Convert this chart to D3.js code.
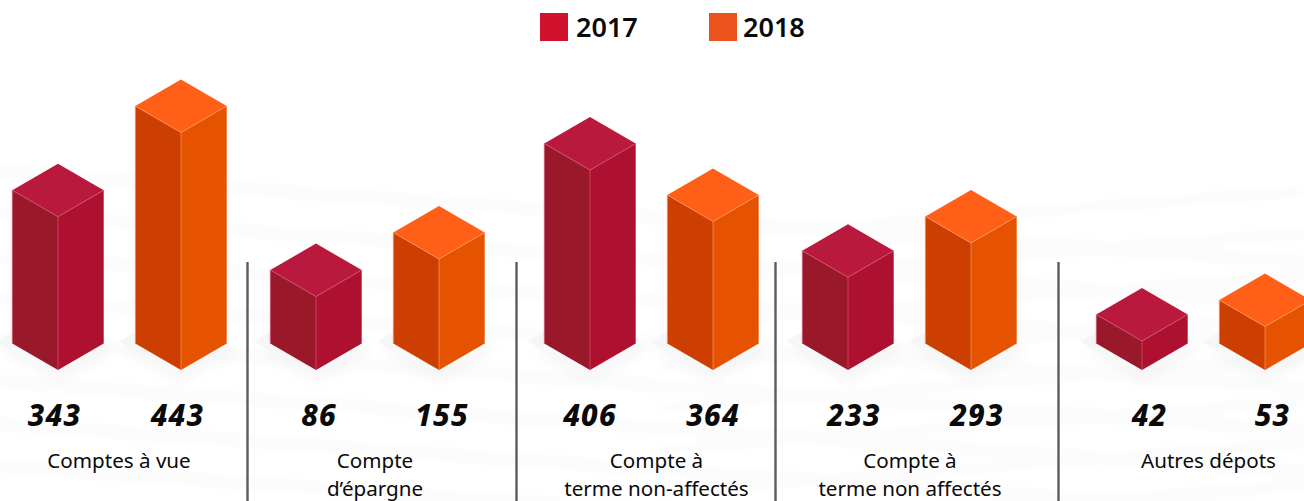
<!DOCTYPE html>
<html>
<head>
<meta charset="utf-8">
<script src="https://cdn.jsdelivr.net/npm/d3@7/dist/d3.min.js"></script>
<style>
  html, body { margin: 0; background: #fff; overflow: hidden; }
  text { font-family: "Noto Sans", sans-serif; fill: #0a0a0a; }
</style>
</head>
<body>
<div class="vis"></div>
<script>
const categories = ["Comptes à vue", "Compte\nd’épargne", "Compte à\nterme non-affectés", "Compte à\nterme non affectés", "Autres dépots"];
const years = ["2017", "2018"];

// printed numbers
const labels2017 = [343, 86, 406, 233, 42];
const labels2018 = [443, 155, 364, 293, 53];

// bar lengths as drawn: in the picture they do not follow the printed numbers,
// so they are read off separately, in the same units as the tallest bar (443)
const drawn2017 = [286, 137, 373, 173, 54];
const drawn2018 = [443, 207, 277, 237, 81];

const width = 1304;
const height = 501;

// layout
const groupCentres = [119.5, 377.5, 651.5, 909.5, 1203.5];
const separators = [247.5, 516.5, 775.5, 1058.5];
const labelShift = [-3.5, 3, 0, 6, 7.5];
const categoryCentres = [119, 375, 656.5, 910, 1208.5];
const barOffset = 61.5;
const halfW = 45.7;
const halfD = 26.5;
const baseY = 370;

const colours = {
  "2017": { legend: "#d0122f", top: "#b8193c", left: "#99182a", right: "#ae102f", edge: "#d8587a" },
  "2018": { legend: "#ec531c", top: "#ff5f17", left: "#cc3f00", right: "#e55200", edge: "#ff9a60" }
};

const svg = d3.select(".vis")
  .append("svg")
  .attr("width", width)
  .attr("height", height)
  .style("display", "block");

const defs = svg.append("defs");
defs.append("filter").attr("id", "soft").attr("x", "-30%").attr("y", "-30%").attr("width", "160%").attr("height", "160%")
  .append("feGaussianBlur").attr("stdDeviation", 7);
defs.append("filter").attr("id", "softer").attr("x", "-10%").attr("y", "-50%").attr("width", "120%").attr("height", "200%")
  .append("feGaussianBlur").attr("stdDeviation", 3);

const xGroup = d3.scaleOrdinal(categories, groupCentres);
const xCategory = d3.scaleOrdinal(categories, categoryCentres);
const yLength = d3.scaleLinear().domain([0, 443]).range([0, 237.5]);

// faint streaks behind the bars
const streaks = svg.append("g").attr("filter", "url(#softer)").attr("fill", "#fcfcfc");
d3.range(8).forEach(i => {
  const y = 165 + i * 42;
  streaks.append("path").attr("d", `M0,${y} L${width},${y + 90} L${width},${y + 104} L0,${y + 14} Z`);
  streaks.append("path").attr("d", `M${width},${y + 20} L660,${y + 70} L660,${y + 80} L${width},${y + 32} Z`);
});

const bars = categories.flatMap((c, i) => [
  { category: c, year: "2017", length: drawn2017[i], label: labels2017[i], side: -1, i },
  { category: c, year: "2018", length: drawn2018[i], label: labels2018[i], side: 1, i }
]);

const barX = d => xGroup(d.category) + d.side * barOffset;

// soft shadows on the ground
const shadows = svg.append("g");
shadows.selectAll("path.ground")
  .data(bars)
  .enter().append("path")
  .attr("class", "ground")
  .attr("fill", "#e8e8e8")
  .attr("opacity", 0.6)
  .attr("filter", "url(#soft)")
  .attr("d", d => {
    const x = barX(d);
    return `M${x - halfW},${baseY - halfD} L${x},${baseY} L${x + halfW},${baseY - halfD} L${x + halfW + 8},${baseY - halfD + 6} L${x},${baseY + 10} L${x - halfW - 8},${baseY - halfD + 6} Z`;
  });
shadows.selectAll("path.wedge")
  .data(bars)
  .enter().append("path")
  .attr("class", "wedge")
  .attr("fill", "#f6f6f6")
  .attr("d", d => {
    const x = barX(d);
    return `M${x - halfW},${baseY - halfD - 12} L${x - halfW - 16},${baseY - halfD - 2} L${x - halfW},${baseY - halfD + 8} Z`;
  });

// isometric columns
const bar = svg.selectAll("g.bar")
  .data(bars)
  .enter().append("g")
  .attr("class", "bar");

const frontTop = d => baseY - yLength(d.length);

bar.append("path")
  .attr("fill", d => colours[d.year].left)
  .attr("d", d => {
    const x = barX(d), t = frontTop(d);
    return `M${x - halfW},${t - halfD} L${x},${t} L${x},${baseY} L${x - halfW},${baseY - halfD} Z`;
  });
bar.append("path")
  .attr("fill", d => colours[d.year].right)
  .attr("d", d => {
    const x = barX(d), t = frontTop(d);
    return `M${x},${t} L${x + halfW},${t - halfD} L${x + halfW},${baseY - halfD} L${x},${baseY} Z`;
  });
bar.append("path")
  .attr("fill", d => colours[d.year].top)
  .attr("d", d => {
    const x = barX(d), t = frontTop(d);
    return `M${x},${t} L${x + halfW},${t - halfD} L${x},${t - 2 * halfD} L${x - halfW},${t - halfD} Z`;
  });
// thin light edges
bar.append("path")
  .attr("fill", "none")
  .attr("stroke", d => colours[d.year].edge)
  .attr("stroke-width", 0.7)
  .attr("d", d => {
    const x = barX(d), t = frontTop(d);
    return `M${x - halfW},${baseY - halfD} L${x - halfW},${t - halfD} L${x},${t} L${x + halfW},${t - halfD} M${x},${t} L${x},${baseY}`;
  });

// value labels
svg.selectAll("text.value")
  .data(bars)
  .enter().append("text")
  .attr("class", "value")
  .attr("x", d => barX(d) + labelShift[d.i])
  .attr("y", 426)
  .attr("text-anchor", "middle")
  .style("font-size", "29.5px")
  .style("font-weight", 800)
  .style("font-style", "italic")
  .style("letter-spacing", "1.2px")
  .text(d => d.label);

// category labels
const cat = svg.selectAll("text.category")
  .data(categories)
  .enter().append("text")
  .attr("class", "category")
  .attr("text-anchor", "middle")
  .attr("x", d => xCategory(d))
  .style("font-size", "20.6px");
cat.selectAll("tspan")
  .data(d => d.split("\n").map(line => ({ line, centre: xCategory(d) })))
  .enter().append("tspan")
  .attr("x", d => d.centre)
  .attr("y", (d, i) => 468 + i * 28)
  .text(d => d.line);

// separators
svg.selectAll("line.sep")
  .data(separators)
  .enter().append("line")
  .attr("class", "sep")
  .attr("x1", d => d).attr("x2", d => d)
  .attr("y1", 262).attr("y2", height)
  .attr("stroke", "#5a5b63")
  .attr("stroke-width", 2.4);

// legend
const legendX = d3.scaleOrdinal(years, [540, 709]);
const legend = svg.selectAll("g.legend")
  .data(years)
  .enter().append("g")
  .attr("class", "legend")
  .attr("transform", d => `translate(${legendX(d)},13)`);
legend.append("rect")
  .attr("width", 28).attr("height", 28)
  .attr("fill", d => colours[d].legend);
legend.append("text")
  .attr("x", d => d === "2017" ? 36 : 34)
  .attr("y", 24)
  .style("font-size", "27px")
  .style("font-weight", 600)
  .text(d => d);
</script>
</body>
</html>
